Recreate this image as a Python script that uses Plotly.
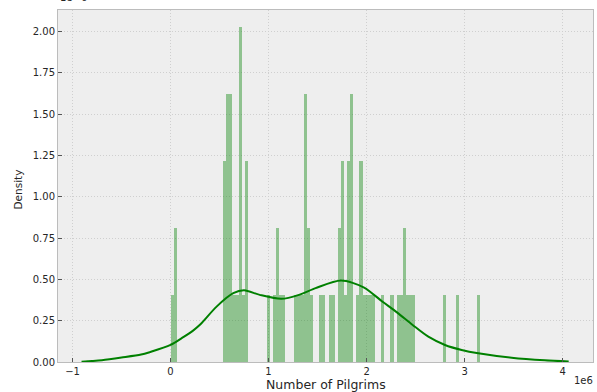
import plotly.graph_objects as go

# ---- data (x in units of 1e6 pilgrims, density in units of 1e-6) ----
bin_start = 0.0
bin_width = 0.0316
bin_counts = [
    1, 2, 0, 0, 0, 0, 0, 0, 0, 0,
    0, 0, 0, 0, 0, 0, 0, 3, 4, 4,
    1, 1, 5, 1, 3, 0, 0, 0, 0, 0,
    0, 1, 0, 1, 2, 1, 1, 0, 0, 0,
    1, 1, 1, 4, 2, 1, 0, 0, 1, 1,
    0, 1, 1, 0, 2, 3, 1, 3, 4, 0,
    1, 3, 1, 1, 1, 1, 0, 0, 1, 0,
    0, 1, 0, 1, 1, 2, 1, 1, 1, 0,
    0, 0, 0, 0, 0, 0, 0, 0, 1, 0,
    0, 0, 1, 0, 0, 0, 0, 0, 0, 1,
]

kde_x = [-0.908, -0.8, -0.7, -0.5, -0.3, -0.21, 0.0, 0.13, 0.23, 0.3, 0.47, 0.64,
         0.75, 0.91, 1.13, 1.31, 1.48, 1.74, 1.97, 2.16, 2.31, 2.47, 2.63,
         2.80, 2.97, 3.14, 3.48, 3.82, 4.062]
kde_y = [0.002, 0.006, 0.011, 0.027, 0.045, 0.06, 0.103, 0.15, 0.19, 0.225, 0.335, 0.416,
         0.434, 0.406, 0.382, 0.406, 0.447, 0.493, 0.452, 0.366, 0.30, 0.224, 0.153,
         0.103, 0.073, 0.053, 0.026, 0.010, 0.003]

x_ticks = [-1, 0, 1, 2, 3, 4]
x_tick_text = ["\u22121", "0", "1", "2", "3", "4"]
y_ticks = [0, 0.25, 0.5, 0.75, 1.0, 1.25, 1.5, 1.75, 2.0]

# ---- derived ----
n_total = sum(bin_counts)
centers = [bin_start + (i + 0.5) * bin_width for i in range(len(bin_counts))]
density = [c / (n_total * bin_width) for c in bin_counts]

FONT = "DejaVu Sans"
TXT = "#262626"

fig = go.Figure()
fig.add_trace(go.Bar(
    x=centers, y=density, width=bin_width,
    marker=dict(color="rgba(0,128,0,0.4)", line=dict(width=0)),
    showlegend=False, hoverinfo="skip",
))
fig.add_trace(go.Scatter(
    x=kde_x, y=kde_y, mode="lines",
    line=dict(color="#008000", width=2, shape="spline", smoothing=0.8),
    showlegend=False, hoverinfo="skip",
))

axis_common = dict(
    showline=True, linecolor="#bcbcbc", linewidth=1, mirror=True,
    showgrid=True, gridcolor="#cfcfcf", gridwidth=0.6, griddash="1px,2px",
    zeroline=False, ticks="inside", ticklen=4, tickcolor="#555555",
    tickfont=dict(family=FONT, size=10, color=TXT),
)

fig.update_layout(
    width=597, height=392,
    margin=dict(l=58, r=4, t=10, b=30),
    paper_bgcolor="white", plot_bgcolor="#eeeeee",
    bargap=0,
    xaxis=dict(range=[-1.148, 4.31], tickvals=x_ticks, ticktext=x_tick_text, **axis_common),
    yaxis=dict(range=[0, 2.129], tickvals=y_ticks, tickformat=".2f", **axis_common),
    annotations=[
        dict(text="Number of Pilgrims", xref="paper", yref="paper", x=0.5, y=0,
             xanchor="center", yanchor="middle", yshift=-22, showarrow=False,
             font=dict(family=FONT, size=12.5, color=TXT)),
        dict(text="Density", xref="paper", yref="paper", x=0, y=0.49,
             xanchor="center", yanchor="middle", xshift=-40, textangle=-90,
             showarrow=False, font=dict(family=FONT, size=10.5, color=TXT)),
        dict(text="1e6", xref="paper", yref="paper", x=1, y=0,
             xanchor="center", yanchor="middle", xshift=-10, yshift=-18,
             showarrow=False, font=dict(family=FONT, size=10, color=TXT)),
        dict(text="1e\u22126", xref="paper", yref="paper", x=0, y=1,
             xanchor="left", yanchor="bottom", xshift=0, yshift=5,
             showarrow=False, font=dict(family=FONT, size=10, color=TXT)),
    ],
)

fig.write_html("out.html")
